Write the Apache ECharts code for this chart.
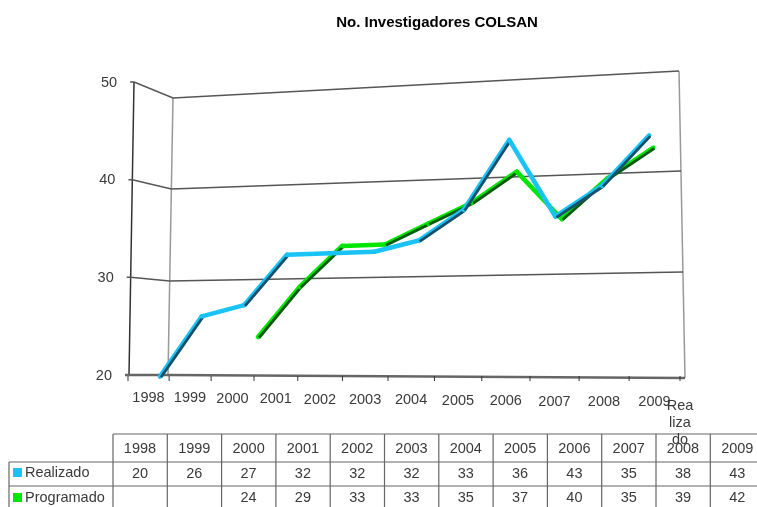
<!DOCTYPE html>
<html>
<head>
<meta charset="utf-8">
<title>No. Investigadores COLSAN</title>
<script src="https://cdn.jsdelivr.net/npm/echarts@6/dist/echarts.min.js"></script>
<style>
  html, body { margin: 0; padding: 0; background: #fff; overflow: hidden; }
  #main { width: 757px; height: 507px; }
</style>
</head>
<body>
<div id="main"></div>
<script>
const years = ['1998','1999','2000','2001','2002','2003','2004','2005','2006','2007','2008','2009'];
const realizado = [20,26,27,32,32,32,33,36,43,35,38,43];
const programado = [null,null,24,29,33,33,35,37,40,35,39,42];
const yTicks = [20,30,40,50];

// geometria de la caja en falso 3D
const wallBackLeftY = [375,281,189,98];
const wallBackRightY = [378,272,171,71];
const textColor = '#3a3a3a';
const fontFamily = '"Liberation Sans", Arial, sans-serif';

const chart = echarts.init(document.getElementById('main'));

// eje x en perspectiva: recibe el pixel de la escala y devuelve el del suelo
const floorX = (px) => {
  const u = (px - 128) / 552;
  return 128 + 488 * u + 64 * u * u;
};
// plano donde van las cintas, mas adelante que la pared
const ribbonX = (px) => {
  const u = (px - 128) / 552;
  return 139.3 + 494.8 * u + 38.9 * u * u;
};
const leftEdgeX = (v) => 129 + (v - 20) * 0.17;

const renderWall = (params, api) => {
  const i = params.dataIndex;
  const v = yTicks[i];
  const y = api.coord([0, v])[1];
  const x = leftEdgeX(v);
  const children = [
    {
      type: 'polyline',
      shape: { points: [[x - 4, y], [x, y], [173 - (50 - v) * 0.17, wallBackLeftY[i]], [679 + (50 - v) * 0.2, wallBackRightY[i]]] },
      style: { fill: 'none', stroke: i === 0 ? '#666' : '#555', lineWidth: i === 0 ? 2.4 : 1.5 }
    },
    {
      type: 'text',
      style: { text: String(v), x: x - 17, y: y + 0.5, align: 'right', verticalAlign: 'middle', fill: textColor, font: '14.5px ' + fontFamily }
    }
  ];
  return { type: 'group', children };
};

const renderFloor = (params, api) => {
  const i = params.dataIndex;
  const y = api.coord([0, 20])[1];
  const left = api.coord([i, 20])[0] - 23;
  const right = api.coord([i, 20])[0] + 23;
  const tick = (px) => ({
    type: 'line',
    shape: { x1: floorX(px), y1: y + 1, x2: floorX(px), y2: y + 6 },
    style: { stroke: '#333', lineWidth: 1 }
  });
  const children = [
    tick(left),
    {
      type: 'text',
      style: { text: years[i], x: floorX(api.coord([i, 20])[0]), y: y + 23 + i * 0.4, align: 'center', verticalAlign: 'middle', fill: textColor, font: '14.5px ' + fontFamily }
    }
  ];
  if (i === years.length - 1) children.push(tick(right));
  return { type: 'group', children };
};

// cada dato dibuja el tramo hasta el siguiente, con cara oscura si sube
const makeRibbon = (values, color, dark, shiftX, shiftY) => (params, api) => {
  const i = params.dataIndex;
  if (i === values.length - 1 || values[i] == null || values[i + 1] == null) return null;
  const point = (k) => {
    const c = api.coord([k, values[k]]);
    return [ribbonX(c[0]) + shiftX(k), c[1] - 1.5 * k + shiftY];
  };
  const a = point(i);
  const b = point(i + 1);
  const children = [{
    type: 'line',
    shape: { x1: a[0], y1: a[1], x2: b[0], y2: b[1] },
    style: { stroke: color, lineWidth: 4.6, lineCap: 'round' }
  }];
  if (values[i + 1] - values[i] >= 2) {
    children.push({
      type: 'line',
      shape: { x1: a[0] + 1, y1: a[1] + 0.8, x2: b[0] + 1, y2: b[1] + 0.8 },
      style: { stroke: dark, lineWidth: 2.8 }
    });
  }
  return { type: 'group', children };
};

// tabla de datos
const colX = (j) => 113 + j * 54.3;
const rowY = [434, 462, 486, 507];
const tableGraphics = [];
const rule = (x1, y1, x2, y2) => tableGraphics.push({
  type: 'line',
  silent: true,
  shape: { x1, y1, x2, y2 },
  style: { stroke: '#666', lineWidth: 1.2 }
});
const cell = (text, x, y, align) => tableGraphics.push({
  type: 'text',
  silent: true,
  style: { text, x, y, align: align || 'center', verticalAlign: 'middle', fill: textColor, font: '14.5px ' + fontFamily }
});

rule(colX(0), rowY[0], 757, rowY[0]);
rule(9, rowY[1], 757, rowY[1]);
rule(9, rowY[2], 757, rowY[2]);
rule(9, rowY[1], 9, rowY[3]);
for (let j = 0; j < years.length; j++) {
  rule(colX(j), rowY[0], colX(j), rowY[3]);
  cell(years[j], colX(j) + 27, 449);
  cell(String(realizado[j]), colX(j) + 27, 474);
  if (programado[j] != null) cell(String(programado[j]), colX(j) + 27, 498);
}
tableGraphics.push({ type: 'rect', silent: true, shape: { x: 13, y: 468, width: 9, height: 9 }, style: { fill: '#19C3F5' } });
tableGraphics.push({ type: 'rect', silent: true, shape: { x: 13, y: 493, width: 9, height: 9 }, style: { fill: '#00E600' } });
cell('Realizado', 25, 473, 'left');
cell('Programado', 25, 498, 'left');
// rotulo de serie que queda partido sobre la tabla
cell('Rea', 680, 406);
cell('liza', 680, 423);
cell('do', 680, 440);

// aristas verticales de la caja
const edges = [
  [[134, 82], [129, 375], '#333'],
  [[173, 98], [168, 375], '#999'],
  [[679, 71], [685, 378], '#999']
];
edges.forEach((e) => tableGraphics.push({
  type: 'line',
  silent: true,
  z: -1,
  shape: { x1: e[0][0], y1: e[0][1], x2: e[1][0], y2: e[1][1] },
  style: { stroke: e[2], lineWidth: 1.5 }
}));

const option = {
  animation: false,
  backgroundColor: '#fff',
  title: {
    text: 'No. Investigadores COLSAN',
    left: 432,
    top: 10,
    textAlign: 'center',
    textStyle: { color: '#000', fontSize: 15, fontWeight: 'bold', fontFamily }
  },
  grid: { left: 128, right: 77, top: 82, bottom: 132 },
  xAxis: {
    type: 'category',
    data: years,
    axisLine: { show: false },
    axisTick: { show: false },
    axisLabel: { show: false }
  },
  yAxis: {
    type: 'value',
    min: 20,
    max: 50,
    interval: 10,
    axisLine: { show: false },
    axisTick: { show: false },
    axisLabel: { show: false },
    splitLine: { show: false }
  },
  graphic: tableGraphics,
  series: [
    {
      name: 'pared',
      type: 'custom',
      silent: true,
      data: yTicks.map((v) => [0, v]),
      renderItem: renderWall
    },
    {
      name: 'suelo',
      type: 'custom',
      silent: true,
      data: years.map((y, i) => [i, 20]),
      renderItem: renderFloor
    },
    {
      name: 'Programado',
      type: 'custom',
      data: programado.map((v, i) => [i, v == null ? 20 : v]),
      renderItem: makeRibbon(programado, '#00E600', '#0B5A12', (k) => 14 - (k - 2) * 1.1, 4)
    },
    {
      name: 'Realizado',
      type: 'custom',
      data: realizado.map((v, i) => [i, v]),
      renderItem: makeRibbon(realizado, '#19C3F5', '#17506E', () => 0, 1.5)
    }
  ]
};

chart.setOption(option);
</script>
</body>
</html>
